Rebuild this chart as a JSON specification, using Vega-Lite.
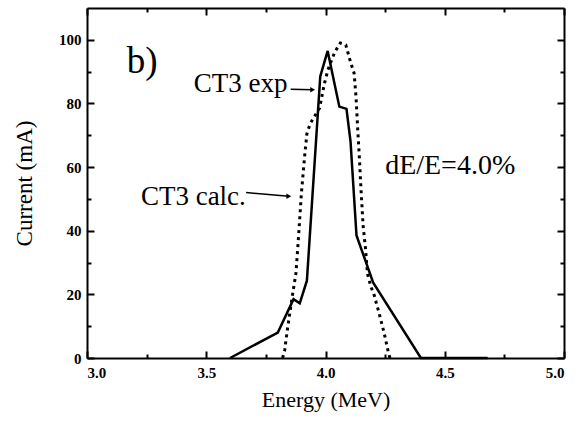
{
  "$schema": "https://vega.github.io/schema/vega-lite/v6.json",
  "width": 477,
  "height": 350,
  "autosize": {"type": "none"},
  "padding": {"left": 87, "top": 8, "right": 19, "bottom": 63},
  "background": "white",
  "config": {
    "font": "Liberation Serif",
    "view": {"stroke": null},
    "text": {"font": "Liberation Serif"},
    "axis": {"labelFont": "Liberation Serif", "titleFont": "Liberation Serif", "labelColor": "black", "titleColor": "black", "domainColor": "black", "tickColor": "black", "domainWidth": 2, "tickWidth": 2, "grid": false}
  },
  "datasets": {
    "exp": [
      {"energy": 3.60, "current": 0}, {"energy": 3.80, "current": 8}, {"energy": 3.866, "current": 18.5},
      {"energy": 3.892, "current": 17.2}, {"energy": 3.922, "current": 24.3}, {"energy": 3.978, "current": 88.5},
      {"energy": 4.009, "current": 96.5}, {"energy": 4.058, "current": 79}, {"energy": 4.088, "current": 78.3},
      {"energy": 4.105, "current": 68}, {"energy": 4.13, "current": 38.5}, {"energy": 4.20, "current": 23.7},
      {"energy": 4.40, "current": 0}, {"energy": 4.68, "current": 0}
    ],
    "calc": [
      {"energy": 3.82, "current": 0}, {"energy": 3.829, "current": 2.5}, {"energy": 3.839, "current": 8.3},
      {"energy": 3.85, "current": 14}, {"energy": 3.862, "current": 20}, {"energy": 3.876, "current": 26.6},
      {"energy": 3.885, "current": 36}, {"energy": 3.899, "current": 51.8}, {"energy": 3.912, "current": 63},
      {"energy": 3.922, "current": 70.5}, {"energy": 3.935, "current": 73.5}, {"energy": 3.95, "current": 75.5},
      {"energy": 3.975, "current": 78.5}, {"energy": 3.986, "current": 82.7}, {"energy": 3.996, "current": 86.4},
      {"energy": 4.01, "current": 90.5}, {"energy": 4.025, "current": 93.5}, {"energy": 4.04, "current": 96.3},
      {"energy": 4.062, "current": 99}, {"energy": 4.085, "current": 98.4}, {"energy": 4.105, "current": 93},
      {"energy": 4.12, "current": 89.5}, {"energy": 4.128, "current": 82}, {"energy": 4.135, "current": 72},
      {"energy": 4.142, "current": 63}, {"energy": 4.149, "current": 52.8}, {"energy": 4.158, "current": 41.3},
      {"energy": 4.167, "current": 35}, {"energy": 4.176, "current": 26.5}, {"energy": 4.19, "current": 22.5},
      {"energy": 4.204, "current": 19.8}, {"energy": 4.225, "current": 14}, {"energy": 4.246, "current": 7.8},
      {"energy": 4.263, "current": 2}, {"energy": 4.27, "current": 0}
    ],
    "labels": [
      {"energy": 3.167, "current": 89.6, "text": "b)", "size": 37},
      {"energy": 3.448, "current": 83.6, "text": "CT3 exp", "size": 27},
      {"energy": 3.226, "current": 48.1, "text": "CT3 calc.", "size": 27},
      {"energy": 4.25, "current": 57.9, "text": "dE/E=4.0%", "size": 28}
    ],
    "arrows": [
      {"energy": 3.854, "current": 84.5, "energy2": 3.946, "current2": 84.3},
      {"energy": 3.667, "current": 52.0, "energy2": 3.846, "current2": 50.8}
    ]
  },
  "layer": [
    {
      "data": {"name": "exp"},
      "mark": {"type": "line", "color": "black", "strokeWidth": 2.5},
      "encoding": {
        "x": {"field": "energy", "type": "quantitative", "scale": {"domain": [3, 5]},
          "axis": {"orient": "bottom", "values": [3, 3.5, 4, 4.5, 5], "format": ".1f", "title": "Energy (MeV)", "tickSize": -7, "labelPadding": 14, "labelFontSize": 15, "labelFontWeight": "bold", "titleFontSize": 22, "titleFontWeight": "normal", "titlePadding": 9}},
        "y": {"field": "current", "type": "quantitative", "scale": {"domain": [0, 110]},
          "axis": {"orient": "left", "values": [0, 20, 40, 60, 80, 100], "title": "Current (mA)", "tickSize": -7, "labelPadding": 13, "labelFontSize": 15, "labelFontWeight": "bold", "titleFontSize": 23, "titleFontWeight": "normal", "titlePadding": 22}}
      }
    },
    {
      "data": {"name": "calc"},
      "mark": {"type": "line", "color": "black", "strokeWidth": 3, "strokeDash": [3, 4]},
      "encoding": {
        "x": {"field": "energy", "type": "quantitative", "scale": {"domain": [3, 5]},
          "axis": {"orient": "top", "values": [3, 3.5, 4, 4.5, 5], "labels": false, "title": null, "tickSize": -7}},
        "y": {"field": "current", "type": "quantitative", "scale": {"domain": [0, 110]},
          "axis": {"orient": "right", "values": [0, 20, 40, 60, 80, 100], "labels": false, "title": null, "tickSize": -7}}
      }
    },
    {
      "data": {"name": "labels"},
      "mark": {"type": "text", "font": "Liberation Serif", "align": "left", "baseline": "alphabetic", "color": "black"},
      "encoding": {
        "x": {"field": "energy", "type": "quantitative", "scale": {"domain": [3, 5]},
          "axis": {"orient": "bottom", "values": [3.25, 3.75, 4.25, 4.75], "labels": false, "title": null, "domain": false, "tickSize": -4}},
        "y": {"field": "current", "type": "quantitative", "scale": {"domain": [0, 110]},
          "axis": {"orient": "left", "values": [10, 30, 50, 70, 90], "labels": false, "title": null, "domain": false, "tickSize": -4}},
        "text": {"field": "text"},
        "size": {"field": "size", "type": "quantitative", "scale": null}
      }
    },
    {
      "data": {"name": "arrows"},
      "mark": {"type": "rule", "color": "black", "strokeWidth": 1.5},
      "encoding": {
        "x": {"field": "energy", "type": "quantitative", "scale": {"domain": [3, 5]},
          "axis": {"orient": "top", "values": [3.25, 3.75, 4.25, 4.75], "labels": false, "title": null, "domain": false, "tickSize": -4}},
        "y": {"field": "current", "type": "quantitative", "scale": {"domain": [0, 110]},
          "axis": {"orient": "right", "values": [10, 30, 50, 70, 90], "labels": false, "title": null, "domain": false, "tickSize": -4}},
        "x2": {"field": "energy2"},
        "y2": {"field": "current2"}
      }
    },
    {
      "data": {"name": "arrows"},
      "mark": {"type": "point", "shape": "triangle-right", "filled": true, "color": "black", "size": 30, "opacity": 1},
      "encoding": {
        "x": {"field": "energy2", "type": "quantitative", "scale": {"domain": [3, 5]}, "axis": null},
        "y": {"field": "current2", "type": "quantitative", "scale": {"domain": [0, 110]}, "axis": null}
      }
    }
  ],
  "resolve": {"axis": {"x": "independent", "y": "independent"}}
}
